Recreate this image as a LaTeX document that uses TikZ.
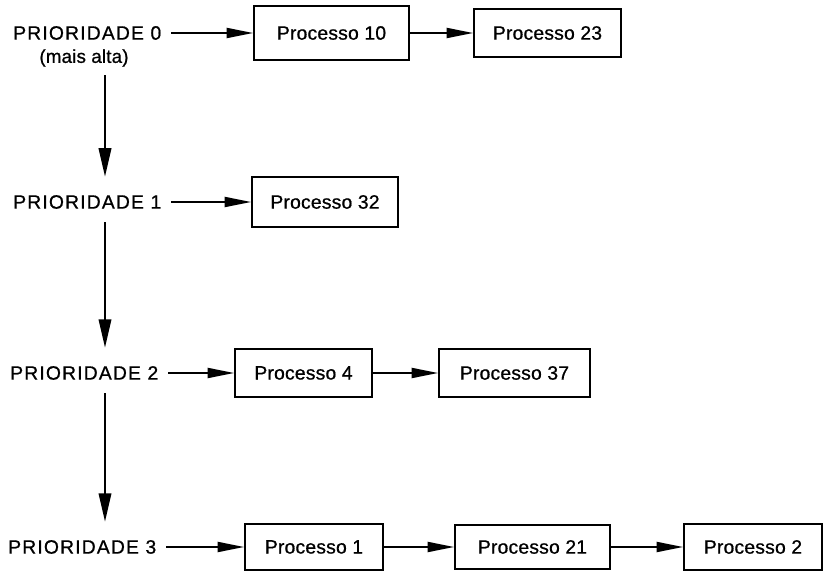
\documentclass[tikz,border=0pt]{standalone}
\usepackage{fontspec}
\newfontfamily\rotfont[LetterSpace=6,FakeBold=0.8]{Liberation Sans}
\newfontfamily\caixafont[LetterSpace=1,FakeBold=0.8]{Liberation Sans}
\usetikzlibrary{arrows.meta,positioning}

\tikzset{
  caixa/.style={draw, line width=1.4pt, minimum height=1.45cm, inner sep=0pt, font=\caixafont\fontsize{16.5}{19}\selectfont},
  rotulo/.style={anchor=west, inner sep=0pt, font=\rotfont\fontsize{16.5}{19}\selectfont},
  seta/.style={line width=1.8pt, -{Triangle[length=0.8cm,width=0.3cm]}, shorten <=0.3cm},
  desce/.style={line width=1.3pt, -{Triangle[length=0.85cm,width=0.38cm]}, shorten <=0.4cm, shorten >=0.55cm}
}

\begin{document}
\begin{tikzpicture}[x=0.03cm, y=-0.03cm]
\useasboundingbox (0,0) rectangle (827,571);
\coordinate (col) at (105,0);
\node[rotulo] (p0) at (13,33) {PRIORIDADE 0}; \node[rotulo] (p1) at (13,202) {PRIORIDADE 1};
\node[rotulo] (p2) at (10,373) {PRIORIDADE 2}; \node[rotulo] (p3) at (8,547) {PRIORIDADE 3};
\node[inner sep=0pt, font=\caixafont\fontsize{16}{19}\selectfont] (alta) at (84,58) {(mais alta)};
\node[caixa, minimum width=4.65cm, minimum height=1.62cm] (b10) at (331.5,33) {Processo 10};
\node[caixa, minimum width=4.41cm] (b23) at (547.5,33) {Processo 23};
\node[caixa, minimum width=4.38cm, minimum height=1.5cm] (b32) at (325,202) {Processo 32};
\node[caixa, minimum width=4.11cm] (b4) at (303.5,373) {Processo 4};
\node[caixa, minimum width=4.53cm] (b37) at (514.5,373) {Processo 37};
\node[caixa, minimum width=4.14cm, minimum height=1.38cm] (b1) at (314,547) {Processo 1};
\node[caixa, minimum width=4.65cm, minimum height=1.32cm] (b21) at (532.5,547) {Processo 21};
\node[caixa, minimum width=4.14cm, minimum height=1.38cm] (b2) at (753,547) {Processo 2};
\draw[seta] (p0.east) -- (b10.west); \draw[seta, shorten <=0pt] (b10.east) -- (b23.west);
\draw[seta] (p1.east) -- (b32.west);
\draw[seta] (p2.east) -- (b4.west); \draw[seta, shorten <=0pt] (b4.east) -- (b37.west);
\draw[seta] (p3.east) -- (b1.west); \draw[seta, shorten <=0pt] (b1.east) -- (b21.west); \draw[seta, shorten <=0pt] (b21.east) -- (b2.west);
\draw[desce, shorten <=0.25cm] (alta.south -| col) -- (p1.north -| col);
\draw[desce] (p1.south -| col) -- (p2.north -| col);
\draw[desce] (p2.south -| col) -- (p3.north -| col);
\end{tikzpicture}
\end{document}
